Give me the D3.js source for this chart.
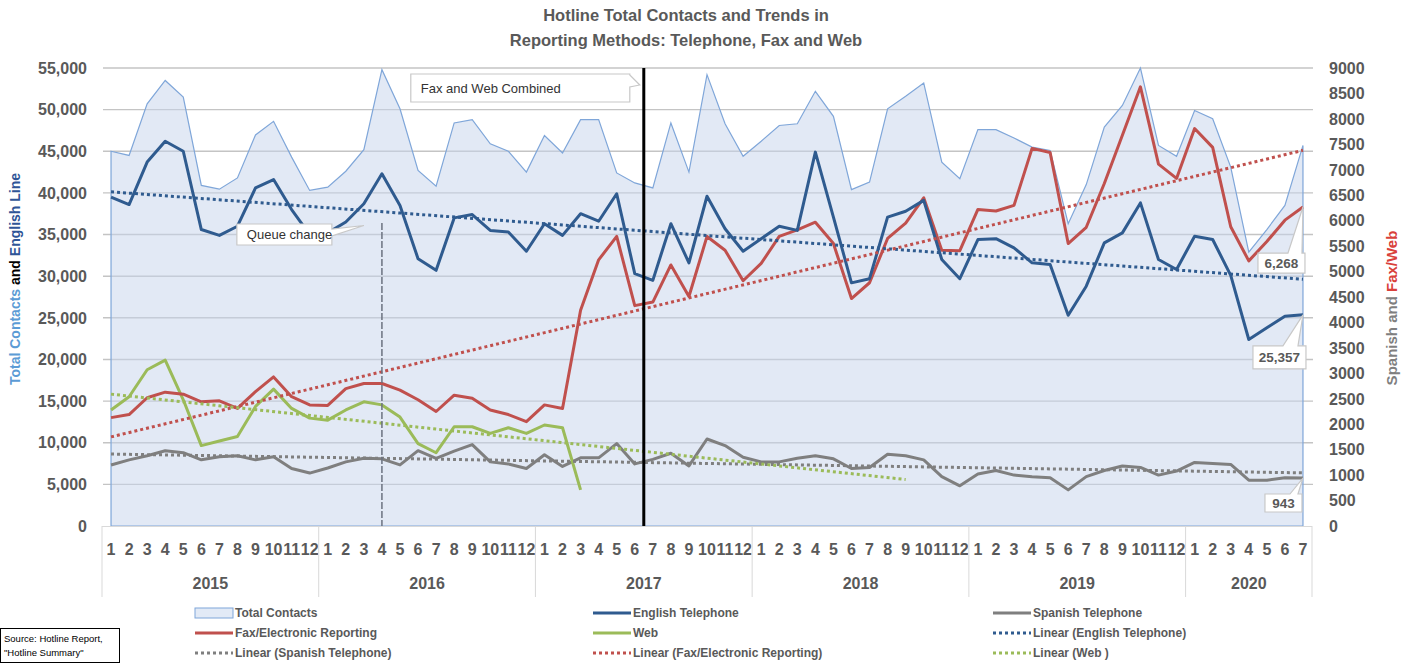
<!DOCTYPE html>
<html>
<head>
<meta charset="utf-8">
<script src="https://cdn.jsdelivr.net/npm/d3@7"></script>
<style>
  body { margin: 0; background: #fff; }
  svg { display: block; font-family: "Liberation Sans", Arial, sans-serif; }
</style>
</head>
<body>
<div id="chart"></div>
<script>
// category axis: years and how many months each one has
const years = ['2015', '2016', '2017', '2018', '2019', '2020'];
const monthsInYear = [12, 12, 12, 12, 12, 7];

// monthly values, Jan 2015 .. Jul 2020 (left axis)
const totalContacts = [
  45000, 44500, 50700, 53500, 51500, 40900, 40450, 41800, 46960, 48600, 44300, 40300,
  40700, 42600, 45200, 54800, 50100, 42700, 40800, 48400, 48800, 45900, 45000, 42500,
  46900, 44800, 48800, 48800, 42400, 41200, 40600, 48400, 42500, 54200, 48300, 44400,
  46200, 48100, 48300, 52200, 49200, 40400, 41300, 50100, 51600, 53200, 43700, 41700,
  47600, 47600, 46600, 45500, 45100, 36300, 41000, 47900, 50500, 55000, 45700, 44400,
  49900, 48900, 43100, 32900, 35600, 38500, 45700
];
const englishTel = [
  39500, 38600, 43700, 46200, 45000, 35600, 34900, 36000, 40600, 41600, 38000, 35000,
  35200, 36500, 38700, 42300, 38500, 32100, 30700, 37000, 37400, 35500, 35300, 33000,
  36300, 34900, 37500, 36600, 39900, 30300, 29500, 36300, 31600, 39600, 35700, 33000,
  34500, 36000, 35500, 44900, 37100, 29200, 29700, 37100, 37800, 39100, 32000, 29700,
  34400, 34500, 33400, 31600, 31400, 25300, 28800, 34000, 35200, 38800, 32000, 30800,
  34800, 34400, 30100, 22400, 23800, 25200, 25357
];
// right axis
const faxElectronic = [
  2130, 2190, 2520, 2630, 2590, 2440, 2460, 2310, 2640, 2930, 2540, 2380,
  2370, 2700, 2800, 2800, 2670, 2480, 2250, 2570, 2510, 2280, 2190, 2050,
  2380, 2310, 4240, 5230, 5690, 4330, 4400, 5130, 4510, 5690, 5420, 4820,
  5160, 5690, 5820, 5970, 5550, 4470, 4780, 5650, 5950, 6450, 5420, 5410,
  6220, 6190, 6300, 7420, 7340, 5550, 5870, 6730, 7680, 8630, 7110, 6830,
  7810, 7440, 5880, 5210, 5590, 6010, 6268
];
// web stops in Mar 2017 (combined with fax after that)
const web = [
  2280, 2540, 3070, 3260, 2480, 1580, 1670, 1760, 2350, 2690, 2310, 2120,
  2080, 2280, 2440, 2380, 2140, 1620, 1440, 1950, 1950, 1820, 1930, 1820,
  1985, 1930, 710
];
const spanishTel = [
  1200, 1300, 1380, 1480, 1440, 1300, 1360, 1380, 1300, 1360, 1130, 1040,
  1140, 1260, 1330, 1320, 1200, 1480, 1330, 1470, 1600, 1260, 1220, 1130,
  1400, 1170, 1340, 1340, 1620, 1220, 1310, 1430, 1180, 1710, 1580, 1350,
  1260, 1260, 1330, 1380, 1320, 1130, 1150, 1410, 1380, 1300, 970, 790,
  1020, 1090, 1000, 970, 950, 710, 970, 1090, 1180, 1150, 1000, 1080,
  1250, 1230, 1210, 900, 900, 950, 943
];
// the web series range in the workbook ran to Sep 2018, so its trend does too
const webSeriesLength = 45;
// markers: queue change in Apr 2016, fax/web combined from Jul 2017
const queueChangeIndex = 15;
const combinedIndex = 30;

const leftMax = 55000, leftStep = 5000;
const rightMax = 9000, rightStep = 500;

function hotlineChart() {
  const width = 1414, height = 665;
  const plot = { left: 102, right: 1312, top: 68, bottom: 526 };
  const grey = '#595959';
  const colors = {
    english: '#2f5b8f', fax: '#c0504d', web: '#9bbb59', spanish: '#7f7f7f',
    areaFill: '#c5d4ec', areaLine: '#7fa6d9'
  };

  // build month labels from the year list
  const cats = [];
  years.forEach((y, yi) => d3.range(1, monthsInYear[yi] + 1).forEach(m => cats.push({ year: y, month: m })));
  const idx = d3.range(cats.length);

  const x = d3.scaleBand().domain(idx).range([plot.left, plot.right]).padding(0);
  const cx = i => x(i) + x.bandwidth() / 2;
  const yL = d3.scaleLinear().domain([0, leftMax]).range([plot.bottom, plot.top]);
  const yR = d3.scaleLinear().domain([0, rightMax]).range([plot.bottom, plot.top]);

  const svg = d3.select('#chart').append('svg')
    .attr('width', width)
    .attr('height', height);

  // title
  const title = svg.append('text')
    .attr('text-anchor', 'middle')
    .style('font-size', '16.5px')
    .style('font-weight', 'bold')
    .attr('fill', grey);
  title.append('tspan').attr('x', 686).attr('y', 21).text('Hotline Total Contacts and Trends in');
  title.append('tspan').attr('x', 686).attr('y', 46).text('Reporting Methods: Telephone, Fax and Web');

  // gridlines on left axis ticks
  const leftTicks = d3.range(0, leftMax + 1, leftStep);
  svg.append('g').selectAll('line')
    .data(leftTicks.filter(d => d > 0))
    .enter().append('line')
    .attr('x1', plot.left + 1).attr('x2', plot.right + 1)
    .attr('y1', d => yL(d)).attr('y2', d => yL(d))
    .attr('stroke', '#c4c4c4')
    .attr('stroke-width', 1.4);

  // left axis labels
  svg.append('g').selectAll('text')
    .data(leftTicks)
    .enter().append('text')
    .attr('x', 87).attr('y', d => yL(d)).attr('dy', '0.36em')
    .attr('text-anchor', 'end')
    .style('font-size', '16px').style('font-weight', 'bold')
    .attr('fill', grey)
    .text(d => d3.format(',')(d));

  // right axis labels
  svg.append('g').selectAll('text')
    .data(d3.range(0, rightMax + 1, rightStep))
    .enter().append('text')
    .attr('x', 1329).attr('y', d => yR(d)).attr('dy', '0.36em')
    .style('font-size', '16px').style('font-weight', 'bold')
    .attr('fill', grey)
    .text(d => d);

  // axis titles
  const lt = svg.append('text')
    .attr('transform', 'translate(20,279) rotate(-90)')
    .attr('text-anchor', 'middle')
    .style('font-size', '14px').style('font-weight', 'bold');
  lt.append('tspan').attr('fill', '#5b9bd5').text('Total Contacts ');
  lt.append('tspan').attr('fill', '#000').text('and ');
  lt.append('tspan').attr('fill', '#2f5597').text('English Line');

  const rt = svg.append('text')
    .attr('transform', 'translate(1397,308) rotate(-90)')
    .attr('text-anchor', 'middle')
    .style('font-size', '15px').style('font-weight', 'bold');
  rt.append('tspan').attr('fill', '#7f7f7f').text('Spanish and ');
  rt.append('tspan').attr('fill', '#d9413b').text('Fax/Web');

  // total contacts area
  const area = d3.area()
    .x(i => cx(i))
    .y0(yL(0))
    .y1(i => yL(totalContacts[i]));
  svg.append('path')
    .datum(idx)
    .attr('d', d => area(d) + 'Z')
    .attr('fill', colors.areaFill)
    .attr('fill-opacity', 0.5)
    .attr('stroke', colors.areaLine)
    .attr('stroke-width', 1.2);

  // category axis: month row, year row, separators
  const xa = svg.append('g');
  xa.append('line')
    .attr('x1', plot.left).attr('x2', plot.right)
    .attr('y1', plot.bottom + 0.5).attr('y2', plot.bottom + 0.5)
    .attr('stroke', '#d9d9d9');
  xa.selectAll('.month')
    .data(idx)
    .enter().append('text')
    .attr('class', 'month')
    .attr('x', i => cx(i)).attr('y', 555)
    .attr('text-anchor', 'middle')
    .style('font-size', '16px').style('font-weight', 'bold')
    .attr('fill', grey)
    .text(i => cats[i].month);
  let start = 0;
  const yearSpans = years.map((y, yi) => {
    const s = { year: y, first: start, last: start + monthsInYear[yi] - 1 };
    start += monthsInYear[yi];
    return s;
  });
  xa.selectAll('.year')
    .data(yearSpans)
    .enter().append('text')
    .attr('class', 'year')
    .attr('x', d => (x(d.first) + x(d.last) + x.bandwidth()) / 2).attr('y', 589)
    .attr('text-anchor', 'middle')
    .style('font-size', '16px').style('font-weight', 'bold')
    .attr('fill', grey)
    .text(d => d.year);
  xa.selectAll('.sep')
    .data([0].concat(yearSpans.map(d => d.last + 1)))
    .enter().append('line')
    .attr('class', 'sep')
    .attr('x1', i => i < cats.length ? x(i) : plot.right)
    .attr('x2', i => i < cats.length ? x(i) : plot.right)
    .attr('y1', plot.bottom).attr('y2', 597)
    .attr('stroke', '#d9d9d9');

  // series lines
  const lineOn = (vals, scale) => d3.line()
    .defined(i => vals[i] != null)
    .x(i => cx(i))
    .y(i => scale(vals[i]));

  const series = [
    { vals: spanishTel, scale: yR, color: colors.spanish },
    { vals: web, scale: yR, color: colors.web },
    { vals: faxElectronic, scale: yR, color: colors.fax },
    { vals: englishTel, scale: yL, color: colors.english }
  ];
  series.forEach(s => {
    svg.append('path')
      .datum(d3.range(s.vals.length))
      .attr('d', lineOn(s.vals, s.scale))
      .attr('fill', 'none')
      .attr('stroke', s.color)
      .attr('stroke-width', 3)
      .attr('stroke-linejoin', 'round');
  });

  // least squares trend, like the spreadsheet's linear trendline
  function linearFit(vals) {
    const pts = vals.map((v, i) => [i, v]).filter(p => p[1] != null);
    const mx = d3.mean(pts, p => p[0]);
    const my = d3.mean(pts, p => p[1]);
    const slope = d3.sum(pts, p => (p[0] - mx) * (p[1] - my)) / d3.sum(pts, p => (p[0] - mx) ** 2);
    return i => my + slope * (i - mx);
  }
  const trends = [
    { vals: englishTel, scale: yL, color: colors.english, span: englishTel.length },
    { vals: spanishTel, scale: yR, color: colors.spanish, span: spanishTel.length },
    { vals: faxElectronic, scale: yR, color: colors.fax, span: faxElectronic.length },
    { vals: web, scale: yR, color: colors.web, span: webSeriesLength }
  ];
  trends.forEach(t => {
    const f = linearFit(t.vals);
    svg.append('line')
      .attr('x1', cx(0)).attr('y1', t.scale(f(0)))
      .attr('x2', cx(t.span - 1)).attr('y2', t.scale(f(t.span - 1)))
      .attr('stroke', t.color)
      .attr('stroke-width', 3)
      .attr('stroke-dasharray', '3,3');
  });

  // marker lines
  svg.append('line')
    .attr('x1', cx(queueChangeIndex)).attr('x2', cx(queueChangeIndex))
    .attr('y1', 223).attr('y2', plot.bottom)
    .attr('stroke', '#6b7280')
    .attr('stroke-width', 1.5)
    .attr('stroke-dasharray', '7,2');
  svg.append('line')
    .attr('x1', x(combinedIndex)).attr('x2', x(combinedIndex))
    .attr('y1', plot.top).attr('y2', plot.bottom)
    .attr('stroke', '#000')
    .attr('stroke-width', 3);

  // callout boxes
  function boxPath(b, tail) {
    const [x0, y0, x1, y1] = [b.x, b.y, b.x + b.w, b.y + b.h];
    if (tail.side === 'right') {
      return `M${x0},${y0}L${x1},${y0}L${x1},${tail.a}L${tail.tip[0]},${tail.tip[1]}L${x1},${tail.b}L${x1},${y1}L${x0},${y1}Z`;
    }
    return `M${x0},${y0}L${tail.a},${y0}L${tail.tip[0]},${tail.tip[1]}L${tail.b},${y0}L${x1},${y0}L${x1},${y1}L${x0},${y1}Z`;
  }
  function note(b, tail, label, opts) {
    svg.append('path')
      .attr('d', boxPath(b, tail))
      .attr('fill', '#fff')
      .attr('stroke', '#c8c8c8')
      .attr('stroke-width', 1.2);
    svg.append('text')
      .attr('x', opts.anchor === 'middle' ? b.x + b.w / 2 : b.x + 10)
      .attr('y', b.y + b.h / 2).attr('dy', '0.36em')
      .attr('text-anchor', opts.anchor)
      .style('font-size', opts.size)
      .style('font-weight', opts.weight)
      .attr('fill', opts.color)
      .text(label);
  }

  const qx = cx(queueChangeIndex - 1);
  note({ x: qx - 127, y: 224, w: 95, h: 21 },
    { side: 'right', a: 229, b: 236, tip: [qx, 225.5] },
    'Queue change', { anchor: 'start', size: '13px', weight: 'normal', color: '#333' });
  const fx = x(combinedIndex);
  note({ x: fx - 233, y: 74, w: 219, h: 28 },
    { side: 'right', a: 75, b: 87, tip: [fx - 4, 85] },
    'Fax and Web Combined', { anchor: 'start', size: '13px', weight: 'normal', color: '#333' });

  // last value labels
  const last = cats.length - 1;
  const lastLabels = [
    { v: faxElectronic[last], scale: yR, box: [-45, 46, 47, 20], base: [-15, -1] },
    { v: englishTel[last], scale: yL, box: [-50, 31, 53, 23], base: [-20, -5] },
    { v: spanishTel[last], scale: yR, box: [-38, 16, 37, 18], base: [-13, -5] }
  ];
  lastLabels.forEach(l => {
    const px = cx(last), py = l.scale(l.v);
    note({ x: px + l.box[0], y: py + l.box[1], w: l.box[2], h: l.box[3] },
      { side: 'top', a: px + l.base[0], b: px + l.base[1], tip: [px, py] },
      d3.format(',')(l.v), { anchor: 'middle', size: '13.5px', weight: 'bold', color: grey });
  });

  // legend
  const legendItems = [
    { name: 'Total Contacts', type: 'area', color: colors.areaLine },
    { name: 'English Telephone', type: 'line', color: colors.english },
    { name: 'Spanish Telephone', type: 'line', color: colors.spanish },
    { name: 'Fax/Electronic Reporting', type: 'line', color: colors.fax },
    { name: 'Web', type: 'line', color: colors.web },
    { name: 'Linear (English Telephone)', type: 'dot', color: colors.english },
    { name: 'Linear (Spanish Telephone)', type: 'dot', color: colors.spanish },
    { name: 'Linear (Fax/Electronic Reporting)', type: 'dot', color: colors.fax },
    { name: 'Linear (Web )', type: 'dot', color: colors.web }
  ];
  const colX = [195, 593, 993], rowY = [613, 633, 653];
  const leg = svg.append('g').selectAll('g')
    .data(legendItems)
    .enter().append('g')
    .attr('transform', (d, i) => `translate(${colX[i % 3]},${rowY[Math.floor(i / 3)]})`);
  leg.filter(d => d.type === 'area').append('rect')
    .attr('x', 0).attr('y', -5).attr('width', 38).attr('height', 10)
    .attr('fill', '#e2eaf6').attr('stroke', colors.areaLine);
  leg.filter(d => d.type !== 'area').append('line')
    .attr('x1', 0).attr('x2', 38)
    .attr('stroke', d => d.color)
    .attr('stroke-width', 3)
    .attr('stroke-dasharray', d => d.type === 'dot' ? '3,3' : null);
  leg.append('text')
    .attr('x', 40).attr('dy', '0.36em')
    .style('font-size', '12px').style('font-weight', 'bold')
    .attr('fill', grey)
    .text(d => d.name);

  // source note in the bottom-left corner
  svg.append('rect')
    .attr('x', 0.5).attr('y', 628.5).attr('width', 119).attr('height', 34)
    .attr('fill', '#fff').attr('stroke', '#000');
  const src = svg.append('text').style('font-size', '9.5px').attr('fill', '#000');
  src.append('tspan').attr('x', 4).attr('y', 642).text('Source: Hotline Report,');
  src.append('tspan').attr('x', 4).attr('y', 656).text('"Hotline Summary"');
}

hotlineChart();
</script>
</body>
</html>
